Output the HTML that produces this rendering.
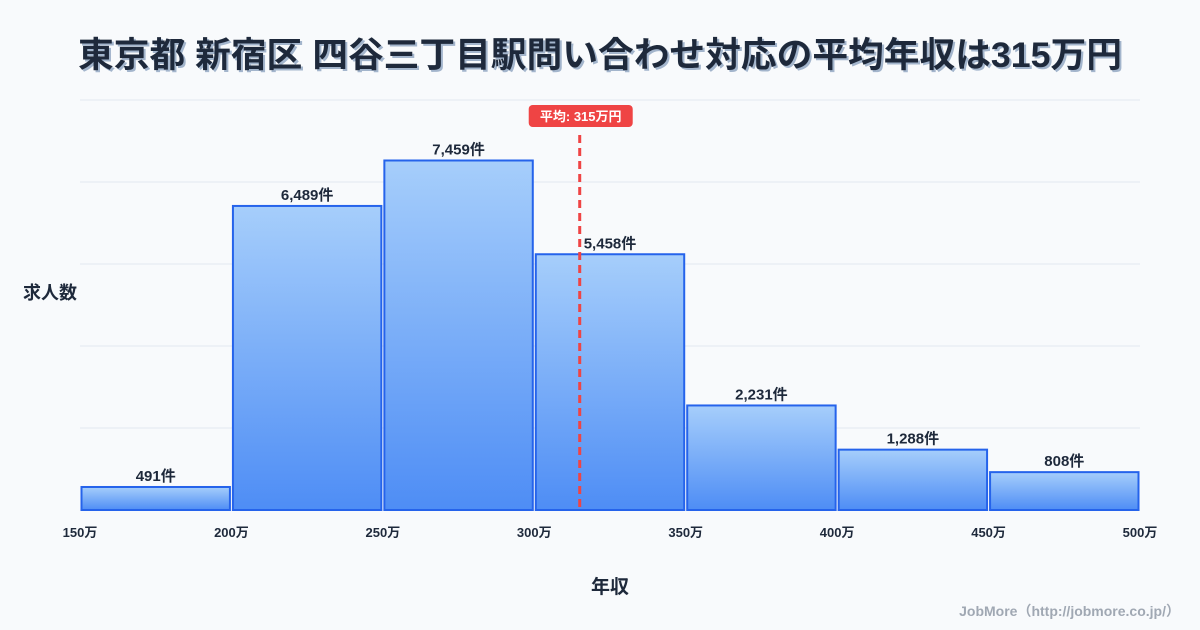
<!DOCTYPE html>
<html><head><meta charset="utf-8"><style>
html,body{margin:0;padding:0;background:#f8fafc;}
svg{display:block;font-family:"Liberation Sans","Noto Sans CJK JP",sans-serif;}
</style></head><body>
<svg id="chart" width="1200" height="630" viewBox="0 0 1200 630">
<defs><linearGradient id="bg" x1="0" y1="0" x2="0" y2="1"><stop offset="0" stop-color="#a6cefb"/><stop offset="1" stop-color="#4e8df5"/></linearGradient></defs>
<rect width="1200" height="630" fill="#f8fafc"/>
<text x="600" y="67" text-anchor="middle" font-size="35" font-weight="bold" fill="#1e293b" textLength="1044" lengthAdjust="spacingAndGlyphs" style="text-shadow:2px 2px 0 #a3b5cc">東京都 新宿区 四谷三丁目駅問い合わせ対応の平均年収は315万円</text>
<g id="grid"></g><g id="bars"></g><g id="xt"></g>
<text x="50" y="299" text-anchor="middle" font-size="18" font-weight="bold" fill="#1e293b">求人数</text>
<text x="610" y="593" text-anchor="middle" font-size="19" font-weight="bold" fill="#1e293b">年収</text>
<text x="1180" y="616" text-anchor="end" font-size="14" font-weight="bold" fill="#a0a8b3">JobMore（http://jobmore.co.jp/）</text>
<g id="avg"></g>
</svg>
<script>
const binStarts=[150,200,250,300,350,400,450];
const counts=[491,6489,7459,5458,2231,1288,808];
const labels=["491件","6,489件","7,459件","5,458件","2,231件","1,288件","808件"];
const xTicks=[150,200,250,300,350,400,450,500];
const yTicks=[0,1750,3500,5250,7000,8750];
const avgValue=315;
const ns="http://www.w3.org/2000/svg";
const X=v=>80+(v-150)*(1060/350);
const Y=v=>510-v*(410/8750);
function mk(t,a,p,txt){const e=document.createElementNS(ns,t);for(const k in a)e.setAttribute(k,a[k]);if(txt!==undefined)e.textContent=txt;p.appendChild(e);return e;}
const G=document.getElementById('grid'),B=document.getElementById('bars'),XT=document.getElementById('xt'),A=document.getElementById('avg');
yTicks.forEach(v=>{const l=mk('line',{x1:80,x2:1140,y1:Y(v),y2:Y(v),stroke:'#e2e8f0','stroke-width':1},G);

});
binStarts.forEach((s,i)=>{const x0=X(s)+1.5,x1=X(s+50)-1.5,y=Y(counts[i]);
const r=mk('rect',{x:x0,y:y,width:x1-x0,height:510-y,fill:'url(#bg)',stroke:'#2563eb','stroke-width':2},B);


const t=mk('text',{x:(x0+x1)/2,y:y-6,'text-anchor':'middle','font-size':15,'font-weight':'bold',fill:'#1e293b'},B,labels[i]);

});
xTicks.forEach(v=>{const t=mk('text',{x:X(v),y:537,'text-anchor':'middle','font-size':13,'font-weight':'bold',fill:'#1e293b'},XT,v+'万');

});
const ax=X(avgValue);
const dl=mk('line',{x1:ax,x2:ax,y1:135,y2:510,stroke:'#ef4444','stroke-width':3,'stroke-dasharray':'8,5'},A);


const br=mk('rect',{x:ax-51,y:105,width:104,height:22,rx:4,fill:'#ef4444'},A);


const bt=mk('text',{x:ax+1,y:121,'text-anchor':'middle','font-size':13,'font-weight':'bold',fill:'#fff'},A,'平均: '+avgValue+'万円');


</script>
</body></html>
